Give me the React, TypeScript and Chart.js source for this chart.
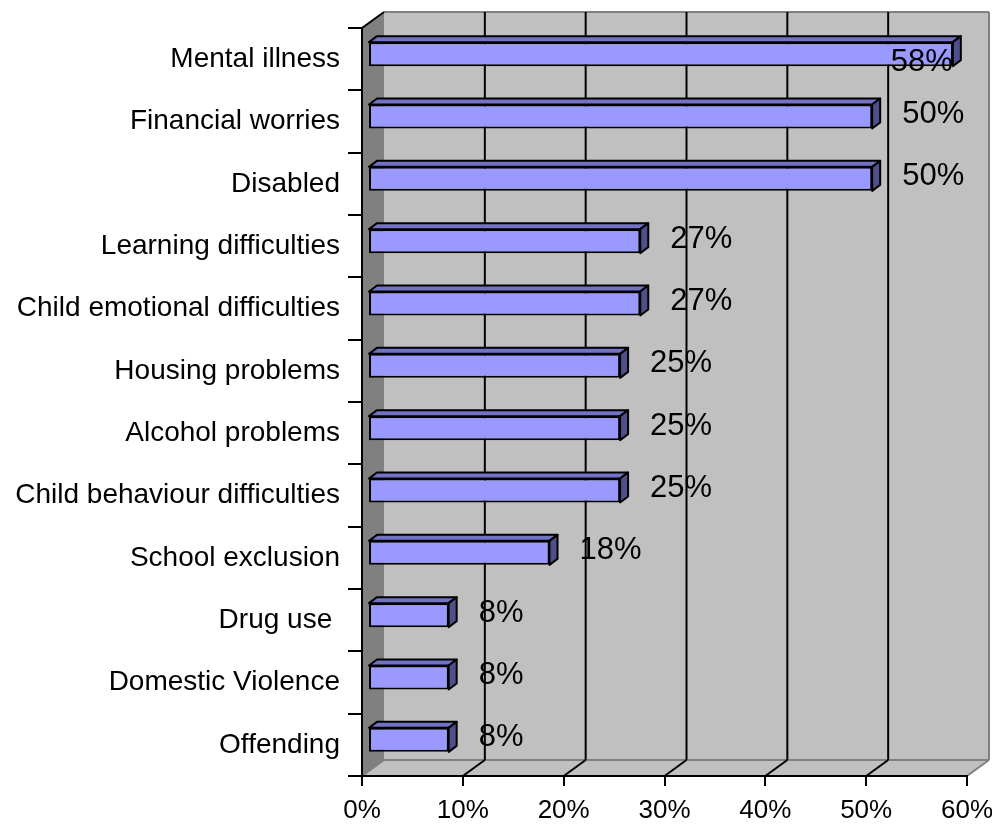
import React, { useEffect, useRef } from "react";
import { Chart, registerables } from "chart.js";

Chart.register(...registerables);

const categories = [
  "Mental illness",
  "Financial worries",
  "Disabled",
  "Learning difficulties",
  "Child emotional difficulties",
  "Housing problems",
  "Alcohol problems",
  "Child behaviour difficulties",
  "School exclusion",
  "Drug use ",
  "Domestic Violence",
  "Offending",
];
const values = [58, 50, 50, 27, 27, 25, 25, 25, 18, 8, 8, 8];
const xTickValues = [0, 10, 20, 30, 40, 50, 60];

const FONT = "'Liberation Sans', Arial, Helvetica, sans-serif";

// 3D geometry (pixels)
const WALL_DX = 22;
const WALL_DY = 16;
const BAR_DX = 6;
const BAR_DY = 5;
const BAR_DEPTH_X = 8;
const BAR_DEPTH_Y = 6;
const LABEL_GAP = 22;

function poly(ctx: CanvasRenderingContext2D, pts: number[][]) {
  ctx.beginPath();
  ctx.moveTo(pts[0][0], pts[0][1]);
  for (let i = 1; i < pts.length; i++) ctx.lineTo(pts[i][0], pts[i][1]);
  ctx.closePath();
}

function line(ctx: CanvasRenderingContext2D, x1: number, y1: number, x2: number, y2: number) {
  ctx.beginPath();
  ctx.moveTo(x1, y1);
  ctx.lineTo(x2, y2);
  ctx.stroke();
}

const wallsPlugin = {
  id: "walls3d",
  beforeDraw(chart: any) {
    const { ctx, chartArea: a, scales } = chart;
    const xs = scales.x;
    const L = a.left, R = a.right, T = a.top, B = a.bottom;
    ctx.save();
    // back wall
    ctx.fillStyle = "#C0C0C0";
    ctx.fillRect(L + WALL_DX, T - WALL_DY, R - L, B - T);
    // floor
    poly(ctx, [[L, B], [L + WALL_DX, B - WALL_DY], [R + WALL_DX, B - WALL_DY], [R, B]]);
    ctx.fill();
    // left wall
    ctx.fillStyle = "#808080";
    poly(ctx, [[L, T], [L + WALL_DX, T - WALL_DY], [L + WALL_DX, B - WALL_DY], [L, B]]);
    ctx.fill();

    // outlines of walls
    ctx.strokeStyle = "#808080";
    ctx.lineWidth = 2;
    line(ctx, L + WALL_DX, T - WALL_DY, R + WALL_DX, T - WALL_DY);
    line(ctx, R + WALL_DX, T - WALL_DY, R + WALL_DX, B - WALL_DY);
    line(ctx, L + WALL_DX, B - WALL_DY, R + WALL_DX, B - WALL_DY);
    line(ctx, R, B, R + WALL_DX, B - WALL_DY);
    line(ctx, L, B, L + WALL_DX, B - WALL_DY);

    // grid lines on back wall and floor
    ctx.strokeStyle = "#000000";
    ctx.lineWidth = 2;
    const maxV = xTickValues[xTickValues.length - 1];
    xTickValues.forEach((v) => {
      if (v === 0 || v === maxV) return;
      const px = xs.getPixelForValue(v);
      line(ctx, px + WALL_DX, T - WALL_DY, px + WALL_DX, B - WALL_DY);
      line(ctx, px, B, px + WALL_DX, B - WALL_DY);
    });
    // top diagonal of left wall
    line(ctx, L, T, L + WALL_DX, T - WALL_DY);
    ctx.restore();
  },
};

const bars3dPlugin = {
  id: "bars3d",
  beforeDatasetsDraw(chart: any) {
    chart.ctx.save();
    chart.ctx.translate(BAR_DX, -BAR_DY);
  },
  afterDatasetsDraw(chart: any) {
    const ctx: CanvasRenderingContext2D = chart.ctx;
    const meta = chart.getDatasetMeta(0);
    ctx.lineWidth = 2;
    ctx.lineJoin = "round";
    ctx.strokeStyle = "#000000";
    meta.data.forEach((el: any) => {
      const { x, y, base, height } = el.getProps(["x", "y", "base", "height"], true);
      const top = y - height / 2;
      const bot = y + height / 2;
      // top face
      poly(ctx, [[base, top], [base + BAR_DEPTH_X, top - BAR_DEPTH_Y], [x + BAR_DEPTH_X, top - BAR_DEPTH_Y], [x, top]]);
      ctx.fillStyle = "#7373C6";
      ctx.fill();
      ctx.stroke();
      // side face
      poly(ctx, [[x, top], [x + BAR_DEPTH_X, top - BAR_DEPTH_Y], [x + BAR_DEPTH_X, bot - BAR_DEPTH_Y], [x, bot]]);
      ctx.fillStyle = "#4F4F8C";
      ctx.fill();
      ctx.stroke();
    });
    ctx.restore();

    // data labels
    const area = chart.chartArea;
    ctx.save();
    ctx.font = `31px ${FONT}`;
    ctx.fillStyle = "#000000";
    ctx.textBaseline = "middle";
    ctx.textAlign = "left";
    meta.data.forEach((el: any, i: number) => {
      const { x, y } = el.getProps(["x", "y"], true);
      const text = values[i] + "%";
      const w = ctx.measureText(text).width;
      let lx = x + BAR_DX + BAR_DEPTH_X + LABEL_GAP;
      let ly = y - BAR_DY - 2;
      if (lx + w > area.right + WALL_DX - 4) {
        lx = x + BAR_DX - w;
        ly = y + 3;
      }
      ctx.fillText(text, lx, ly);
    });
    ctx.restore();
  },
};

export default function App() {
  const canvasRef = useRef<HTMLCanvasElement | null>(null);

  useEffect(() => {
    if (!canvasRef.current) return;
    Chart.defaults.font.family = FONT;
    const chart = new Chart(canvasRef.current, {
      type: "bar",
      data: {
        labels: categories,
        datasets: [
          {
            data: values,
            backgroundColor: "#9999FF",
            borderColor: "#000000",
            borderWidth: 2,
            borderSkipped: false,
            barPercentage: 0.385,
            categoryPercentage: 1,
          },
        ],
      },
      options: {
        indexAxis: "y",
        animation: false,
        responsive: true,
        maintainAspectRatio: false,
        layout: { padding: { top: 28, right: 25, bottom: 0, left: 0 } },
        plugins: {
          legend: { display: false },
          tooltip: { enabled: false },
          title: { display: false },
        },
        scales: {
          x: {
            min: 0,
            max: 60,
            afterBuildTicks: (scale: any) => {
              scale.ticks = xTickValues.map((v) => ({ value: v }));
            },
            afterFit: (scale: any) => {
              scale.height = 49;
              scale.paddingRight = 0;
              scale.paddingLeft = 0;
            },
            ticks: {
              callback: (v: any) => v + "%",
              color: "#000000",
              font: { size: 26 },
              padding: 9,
              maxRotation: 0,
              autoSkip: false,
            },
            grid: {
              drawOnChartArea: false,
              drawTicks: true,
              tickLength: 10,
              color: "#000000",
              lineWidth: 2,
            },
            border: { display: true, color: "#000000", width: 2 },
          },
          y: {
            afterFit: (scale: any) => {
              scale.width = 362;
            },
            ticks: {
              color: "#000000",
              font: { size: 28 },
              padding: 8,
              autoSkip: false,
            },
            grid: {
              drawOnChartArea: false,
              drawTicks: true,
              tickLength: 14,
              color: "#000000",
              lineWidth: 2,
              offset: true,
            },
            border: { display: true, color: "#000000", width: 2 },
          },
        },
      },
      plugins: [wallsPlugin, bars3dPlugin],
    });
    return () => chart.destroy();
  }, []);

  return (
    <div style={{ position: "absolute", left: 0, top: 0, width: 992, height: 825, background: "#ffffff" }}>
      <canvas ref={canvasRef} />
    </div>
  );
}
